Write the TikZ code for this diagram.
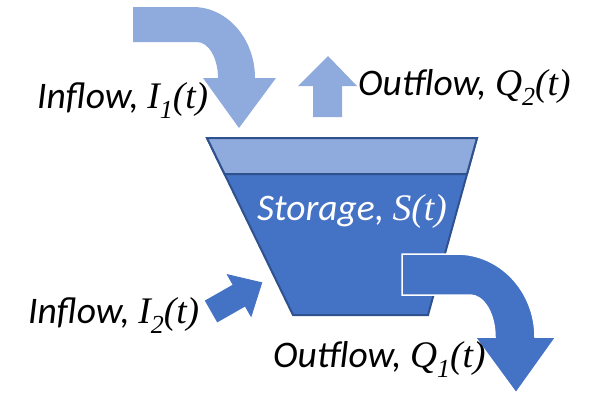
\documentclass[tikz,border=0pt]{standalone}
\usepackage{fontspec}
\setmainfont{Carlito}
\newfontfamily\mserif{Liberation Serif}
\definecolor{lightblue}{HTML}{8FAADC}
\definecolor{darkblue}{HTML}{4472C4}
\definecolor{edgeblue}{HTML}{2F528F}
\newcommand{\mv}[1]{{\mserif\itshape #1}}
\newcommand{\msub}[1]{\raisebox{-0.28em}{\fontsize{26}{26}\selectfont\mserif\itshape #1}}
\begin{document}
\begin{tikzpicture}[x=1pt,y=-1pt,
  lbl/.style={anchor=base west, inner sep=0pt, font=\fontsize{37.5}{40}\selectfont\itshape},
  lightarrow/.style={fill=lightblue, draw=none},
  darkarrow/.style={fill=darkblue, draw=white, line width=1.5pt, line join=miter},
  tank/.style={draw=edgeblue, line width=2pt, line join=miter}]
\useasboundingbox (0,0) rectangle (600,394);

% inflow I1 curved arrow
\path[lightarrow] (133,7) -- (193,7) arc[start angle=-90, end angle=0, x radius=62, y radius=71]
  -- (276,78) -- (239,128) -- (203,78) -- (218,78)
  arc[start angle=0, end angle=-90, x radius=21, y radius=36]
  -- (133,42) -- cycle;

% outflow Q2 up arrow
\path[lightarrow] (313,117) -- (313,86) -- (298,86) -- (328,56) -- (357,86) -- (342,86) -- (342,117) -- cycle;

% tank
\path[tank, fill=darkblue] (207,138) -- (477,138) -- (428,315) -- (293,315) -- cycle;
\path[tank, fill=lightblue] (207,138) -- (477,138) -- (467,174) -- (224.5,174) -- cycle;
\node[anchor=base, inner sep=0pt, text=white, font=\fontsize{37.5}{40}\selectfont\itshape] (storage) at (352,220) {Storage, \mv{S(t)}};

% inflow I2 arrow
\path[fill=darkblue] (204.8,300.6) -- (232.6,284.8) -- (226.5,274.0) -- (262.3,282.4) -- (251.2,317.4) -- (245.0,306.6) -- (217.2,322.4) -- cycle;

% outflow Q1 curved arrow
\path[darkarrow] (402,254) -- (457,254) arc[start angle=-90, end angle=0, x radius=78, y radius=83]
  -- (556,337) -- (516,393) -- (475,337) -- (495,337)
  arc[start angle=0, end angle=-90, x radius=25, y radius=42]
  -- (402,295) -- cycle;

% labels
\node[lbl] (inI1) at (37,108) {Inflow, \mv{I}\msub{1}\mv{(t)}};
\node[lbl] (outQ2) at (358,95) {Outflow, \mv{Q}\msub{2}\mv{(t)}};
\node[lbl] (inI2) at (28,323) {Inflow, \mv{I}\msub{2}\mv{(t)}};
\node[lbl] (outQ1) at (273,367) {Outflow, \mv{Q}\msub{1}\mv{(t)}};
\end{tikzpicture}
\end{document}
